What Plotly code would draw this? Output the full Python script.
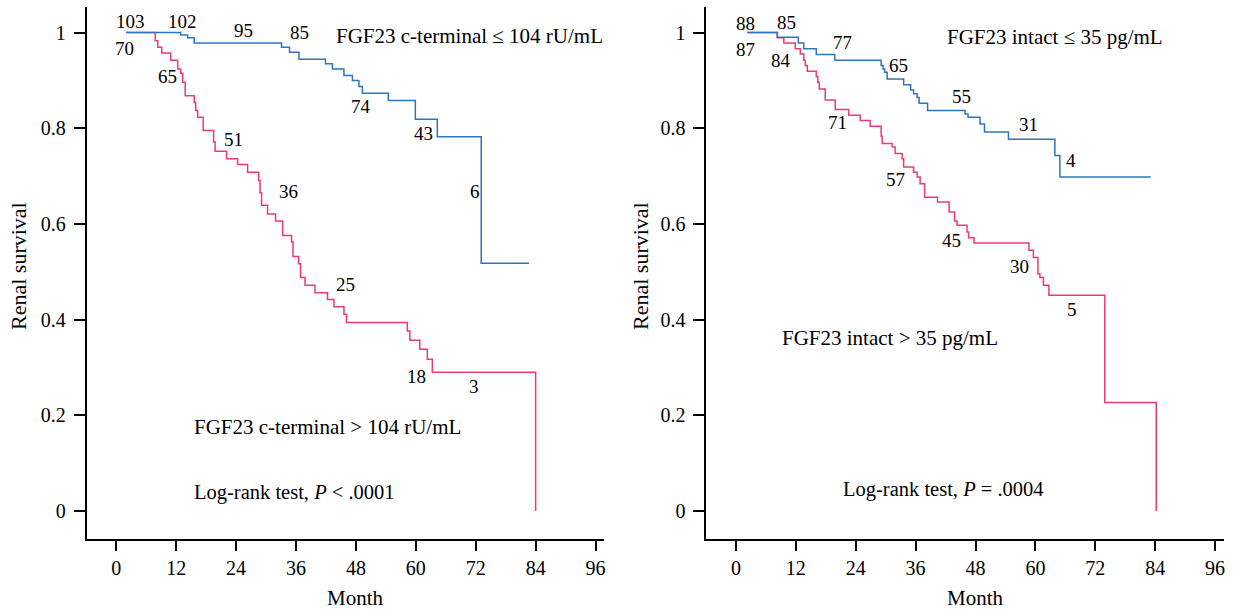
import plotly.graph_objects as go

# ---------------- data ----------------
# Left panel: FGF23 c-terminal
ct_low_time = [2, 12.9, 14.3, 15.6, 33.1, 34.7, 36.6, 41.9, 43.3, 45.6,
               47.3, 48.6, 49.3, 54.5, 59.9, 64.3, 73.1, 82.7]
ct_low_surv = [1.0, 0.995, 0.989, 0.978, 0.969, 0.959, 0.944, 0.935, 0.924, 0.910,
               0.900, 0.887, 0.873, 0.858, 0.819, 0.782, 0.518, 0.518]

ct_high_time = [2, 7.8, 8.3, 9.1, 10.9, 12.3, 12.9, 13.3, 13.8, 15.6,
                15.9, 16.3, 17.4, 19.5, 19.8, 22.1, 24.3, 26.3, 28.5, 28.8,
                29.1, 30.3, 31.9, 33.3, 35.1, 35.4, 36.5, 36.9, 37.8, 39.8,
                42.3, 43.6, 45.6, 46.1, 58.3, 58.8, 60.8, 62.3, 63.3, 84.0]
ct_high_surv = [1.0, 0.983, 0.969, 0.957, 0.942, 0.924, 0.915, 0.896, 0.868, 0.854,
                0.837, 0.823, 0.795, 0.771, 0.752, 0.736, 0.724, 0.708, 0.691, 0.665,
                0.639, 0.621, 0.606, 0.576, 0.562, 0.532, 0.517, 0.488, 0.472, 0.456,
                0.442, 0.427, 0.411, 0.394, 0.376, 0.357, 0.338, 0.317, 0.290, 0.0]

# Right panel: FGF23 intact
in_low_time = [2.3, 8.3, 12.5, 13.6, 16.1, 19.8, 29.1, 29.5, 29.8, 30.3,
               33.6, 35.0, 35.6, 36.3, 36.7, 38.4, 45.9, 46.5, 48.9, 49.8,
               54.6, 63.9, 64.9, 83.1]
in_low_surv = [1.0, 0.990, 0.978, 0.966, 0.954, 0.942, 0.931, 0.924, 0.917, 0.903,
               0.891, 0.880, 0.872, 0.864, 0.852, 0.837, 0.830, 0.823, 0.809, 0.792,
               0.777, 0.743, 0.698, 0.698]

in_high_time = [2.3, 8.3, 9.6, 11.9, 12.9, 13.6, 13.9, 14.3, 16.1, 16.4,
                16.7, 17.9, 19.9, 22.6, 24.9, 26.9, 29.1, 29.3, 31.3, 31.9,
                33.3, 33.6, 35.6, 36.3, 36.9, 37.8, 40.4, 42.7, 43.8, 44.3,
                46.3, 46.6, 47.7, 58.7, 59.6, 60.5, 60.9, 61.6, 62.7, 73.9, 84.2]
in_high_surv = [1.0, 0.989, 0.978, 0.966, 0.955, 0.942, 0.931, 0.919, 0.908, 0.896,
                0.882, 0.859, 0.839, 0.827, 0.816, 0.804, 0.783, 0.768, 0.761, 0.747,
                0.736, 0.719, 0.708, 0.698, 0.684, 0.656, 0.646, 0.625, 0.606, 0.597,
                0.583, 0.571, 0.560, 0.545, 0.530, 0.496, 0.488, 0.472, 0.451, 0.227, 0.0]

# numbers at risk (label, month, survival position)
left_risk_labels = ["103", "70", "102", "95", "85", "65", "74", "51", "43", "36", "6", "25", "18", "3"]
left_risk_x = [2.84, 1.7, 13.24, 25.5, 36.7, 10.16, 49.0, 23.56, 61.5, 34.56, 71.9, 46.0, 60.2, 71.7]
left_risk_y = [1.023, 0.966, 1.023, 1.004, 1.0, 0.909, 0.845, 0.776, 0.788, 0.668, 0.668, 0.473, 0.281, 0.260]

right_risk_labels = ["88", "87", "85", "84", "77", "65", "55", "71", "57", "31", "4", "45", "30", "5"]
right_risk_x = [2.0, 2.0, 10.2, 9.08, 21.4, 32.5, 45.1, 20.4, 31.9, 58.7, 67.1, 43.2, 56.9, 67.3]
right_risk_y = [1.018, 0.964, 1.021, 0.941, 0.979, 0.932, 0.866, 0.812, 0.692, 0.807, 0.732, 0.565, 0.510, 0.422]

x_ticks = [0, 12, 24, 36, 48, 60, 72, 84, 96]
y_ticks = [0, 0.2, 0.4, 0.6, 0.8, 1.0]
y_tick_text = ["0", "0.2", "0.4", "0.6", "0.8", "1"]

BLUE = "#2f74c0"
PINK = "#ee3a74"
FONT = "Liberation Serif"
FS = 20

fig = go.Figure()

fig.add_trace(go.Scatter(x=ct_high_time, y=ct_high_surv, mode="lines", line_shape="hv",
                         line=dict(color=PINK, width=1.5), xaxis="x", yaxis="y", showlegend=False))
fig.add_trace(go.Scatter(x=ct_low_time, y=ct_low_surv, mode="lines", line_shape="hv",
                         line=dict(color=BLUE, width=1.5), xaxis="x", yaxis="y", showlegend=False))
fig.add_trace(go.Scatter(x=in_high_time, y=in_high_surv, mode="lines", line_shape="hv",
                         line=dict(color=PINK, width=1.5), xaxis="x2", yaxis="y2", showlegend=False))
fig.add_trace(go.Scatter(x=in_low_time, y=in_low_surv, mode="lines", line_shape="hv",
                         line=dict(color=BLUE, width=1.5), xaxis="x2", yaxis="y2", showlegend=False))

W, H = 1233, 610
ydom = [1 - 539 / H, 1 - 6.7 / H]
xrange_ = [-5.96, 97.7]
yrange_ = [-0.0585, 1.054]

common_x = dict(range=xrange_, tickvals=x_ticks, ticktext=[str(t) for t in x_ticks],
                showline=True, linecolor="black", linewidth=1.5, ticks="outside",
                ticklen=10, tickwidth=1.5, tickcolor="black", showgrid=False, zeroline=False,
                tickfont=dict(family=FONT, size=FS, color="black"), ticklabelstandoff=0)
common_y = dict(range=yrange_, tickvals=y_ticks, ticktext=y_tick_text, domain=ydom,
                showline=True, linecolor="black", linewidth=1.5, ticks="outside",
                ticklen=11, tickwidth=1.5, tickcolor="black", showgrid=False, zeroline=False,
                tickfont=dict(family=FONT, size=FS, color="black"), ticklabelstandoff=4)

fig.update_layout(
    width=W, height=H,
    margin=dict(l=0, r=0, t=0, b=0),
    paper_bgcolor="white", plot_bgcolor="white",
    xaxis=dict(domain=[86.7 / W, 605 / W], anchor="y", **common_x),
    yaxis=dict(anchor="x", **common_y),
    xaxis2=dict(domain=[707.3 / W, 1225.6 / W], anchor="y2", **common_x),
    yaxis2=dict(anchor="x2", **common_y),
    font=dict(family=FONT, size=FS, color="black"),
    hovermode=False,
)

ann = []
for lab, x, y in zip(left_risk_labels, left_risk_x, left_risk_y):
    ann.append(dict(text=lab, x=x, y=y, xref="x", yref="y", showarrow=False,
                    xanchor="center", yanchor="middle", font=dict(size=19)))
for lab, x, y in zip(right_risk_labels, right_risk_x, right_risk_y):
    ann.append(dict(text=lab, x=x, y=y, xref="x2", yref="y2", showarrow=False,
                    xanchor="center", yanchor="middle", font=dict(size=19)))

ann += [
    dict(text="FGF23 c-terminal ≤ 104 rU/mL", x=43.7, y=0.992, xref="x", yref="y",
         showarrow=False, xanchor="left", yanchor="middle", font=dict(size=21)),
    dict(text="FGF23 c-terminal &gt; 104 rU/mL", x=15.1, y=0.176, xref="x", yref="y",
         showarrow=False, xanchor="left", yanchor="middle", font=dict(size=21)),
    dict(text="Log-rank test, <i>P</i> &lt; .0001", x=15.1, y=0.038, xref="x", yref="y",
         showarrow=False, xanchor="left", yanchor="middle", font=dict(size=20.5)),
    dict(text="FGF23 intact ≤ 35 pg/mL", x=41.9, y=0.991, xref="x2", yref="y2",
         showarrow=False, xanchor="left", yanchor="middle", font=dict(size=21)),
    dict(text="FGF23 intact &gt; 35 pg/mL", x=8.9, y=0.362, xref="x2", yref="y2",
         showarrow=False, xanchor="left", yanchor="middle", font=dict(size=21)),
    dict(text="Log-rank test, <i>P</i> = .0004", x=21.1, y=0.044, xref="x2", yref="y2",
         showarrow=False, xanchor="left", yanchor="middle", font=dict(size=20.5)),
    # axis titles
    dict(text="Renal survival", x=18 / W, y=1 - 266 / H, xref="paper", yref="paper",
         showarrow=False, textangle=-90, xanchor="center", yanchor="middle", font=dict(size=22)),
    dict(text="Renal survival", x=641 / W, y=1 - 266 / H, xref="paper", yref="paper",
         showarrow=False, textangle=-90, xanchor="center", yanchor="middle", font=dict(size=22)),
    dict(text="Month", x=356 / W, y=1 - 598 / H, xref="paper", yref="paper",
         showarrow=False, xanchor="center", yanchor="middle", font=dict(size=21)),
    dict(text="Month", x=977 / W, y=1 - 598 / H, xref="paper", yref="paper",
         showarrow=False, xanchor="center", yanchor="middle", font=dict(size=21)),
]
fig.update_layout(annotations=ann)

fig.write_html(
    "out.html",
    config={"displayModeBar": False},
    post_script="document.body.style.margin='0';document.body.style.overflow='hidden';",
)
